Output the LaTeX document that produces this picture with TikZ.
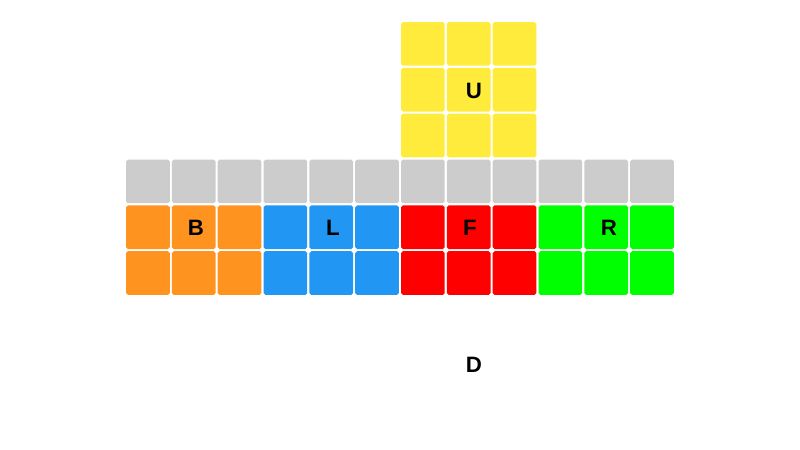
\documentclass[tikz,border=0pt]{standalone}
\usepackage{fontspec}
\setmainfont{Liberation Sans}
\usetikzlibrary{positioning}
\definecolor{cubegray}{HTML}{CCCCCC}
\definecolor{cubeyellow}{HTML}{FFEB3B}
\definecolor{cubeorange}{HTML}{FF9320}
\definecolor{cubeblue}{HTML}{2196F3}
\definecolor{cubered}{HTML}{FF0000}
\definecolor{cubegreen}{HTML}{00FF00}
\tikzset{
    sticker/.style={
        draw=none,
        rounded corners=1.6pt,
        minimum size=1.31cm,
        inner sep=0pt
    },
    face label/.style={
        font=\fontsize{19}{22}\selectfont\bfseries,
        text=black,
        inner sep=0pt
    }
}

\begin{document}
\begin{tikzpicture}[x=0.03cm, y=-0.03cm]
    \useasboundingbox (0,0) rectangle (800,450);

    % up face
    \foreach \r in {0,1,2}
        \foreach \c in {6,7,8}
            \node[sticker, fill=cubeyellow] (U-\r-\c) at ({125+45.83*(\c+0.5)}, {21+45.83*(\r+0.5)}) {};

    % top row of the side faces
    \foreach \c in {0,...,11}
        \node[sticker, fill=cubegray] (top-\c) at ({125+45.83*(\c+0.5)}, {21+45.83*3.5}) {};

    % lower two rows of the side faces
    \foreach \face/\col/\first in {B/cubeorange/0, L/cubeblue/3, F/cubered/6, R/cubegreen/9}
        \foreach \r in {4,5}
            \foreach \k in {0,1,2}
                \node[sticker, fill=\col] (\face-\r-\k) at ({125+45.83*(\first+\k+0.5)}, {21+45.83*(\r+0.5)}) {};

    \node[face label] (labelU) at (474,91) {U};
    \node[face label] (labelB) at (196,228) {B};
    \node[face label] (labelL) at (333,228) {L};
    \node[face label] (labelF) at (470,228) {F};
    \node[face label] (labelR) at (609,228) {R};
    \node[face label] (labelD) at (474,365) {D};
\end{tikzpicture}
\end{document}
